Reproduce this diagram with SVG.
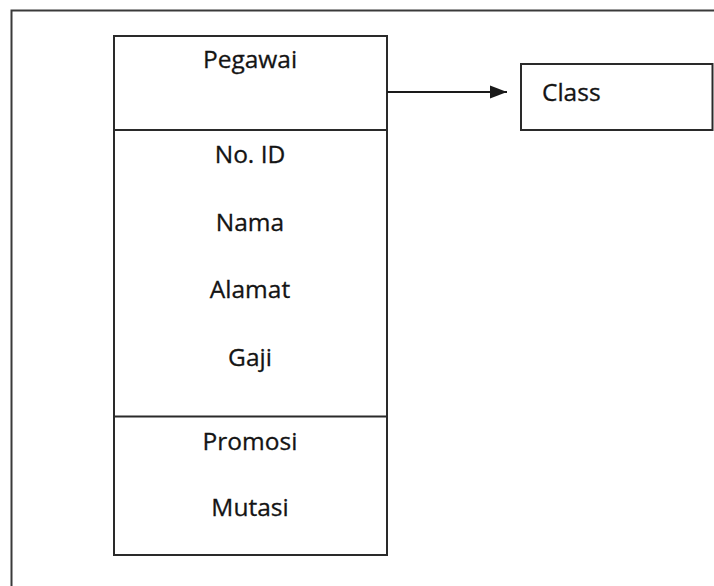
<svg xmlns="http://www.w3.org/2000/svg" width="714" height="586" viewBox="0 0 714 586">
  <style>
    .frame { fill: none; stroke: #3a3a3a; stroke-width: 2; }
    .box { fill: #ffffff; stroke: #2a2a2a; stroke-width: 2; }
    .sep { stroke: #2a2a2a; stroke-width: 2; }
    .conn { stroke: #1a1a1a; stroke-width: 2; fill: none; }
    .label { font-family: "Open Sans", "Noto Sans", "Liberation Sans", sans-serif; font-size: 24.5px; fill: #141414; stroke: #141414; stroke-width: 0.3px; }
    .mid { text-anchor: middle; }
  </style>
  <defs>
    <marker id="arrowhead" markerWidth="17" markerHeight="14" refX="17" refY="7" orient="auto" markerUnits="userSpaceOnUse">
      <path d="M0,0.5 L17,7 L0,13.5 Z" fill="#1a1a1a"/>
    </marker>
  </defs>

  <rect width="714" height="586" fill="#ffffff"/>

  <!-- outer frame, open to the right and bottom -->
  <path class="frame" d="M11.5,586 V10.5 H714"/>

  <!-- class box: Pegawai -->
  <g id="pegawai">
    <rect class="box" x="114" y="36" width="273" height="519"/>
    <line class="sep" x1="114" y1="130" x2="387" y2="130"/>
    <line class="sep" x1="114" y1="416.5" x2="387" y2="416.5"/>
    <text class="label mid" x="250" y="68">Pegawai</text>
    <text class="label mid" x="250" y="163">No. ID</text>
    <text class="label mid" x="250" y="231">Nama</text>
    <text class="label mid" x="250" y="298">Alamat</text>
    <text class="label mid" x="250" y="366">Gaji</text>
    <text class="label mid" x="250" y="450">Promosi</text>
    <text class="label mid" x="250" y="516">Mutasi</text>
  </g>

  <!-- legend box: Class -->
  <g id="class">
    <rect class="box" x="521" y="64" width="191.5" height="66"/>
    <text class="label" x="542" y="101">Class</text>
  </g>

  <g id="connectors">
    <line class="conn" x1="387" y1="92" x2="507" y2="92" marker-end="url(#arrowhead)"/>
  </g>
</svg>
